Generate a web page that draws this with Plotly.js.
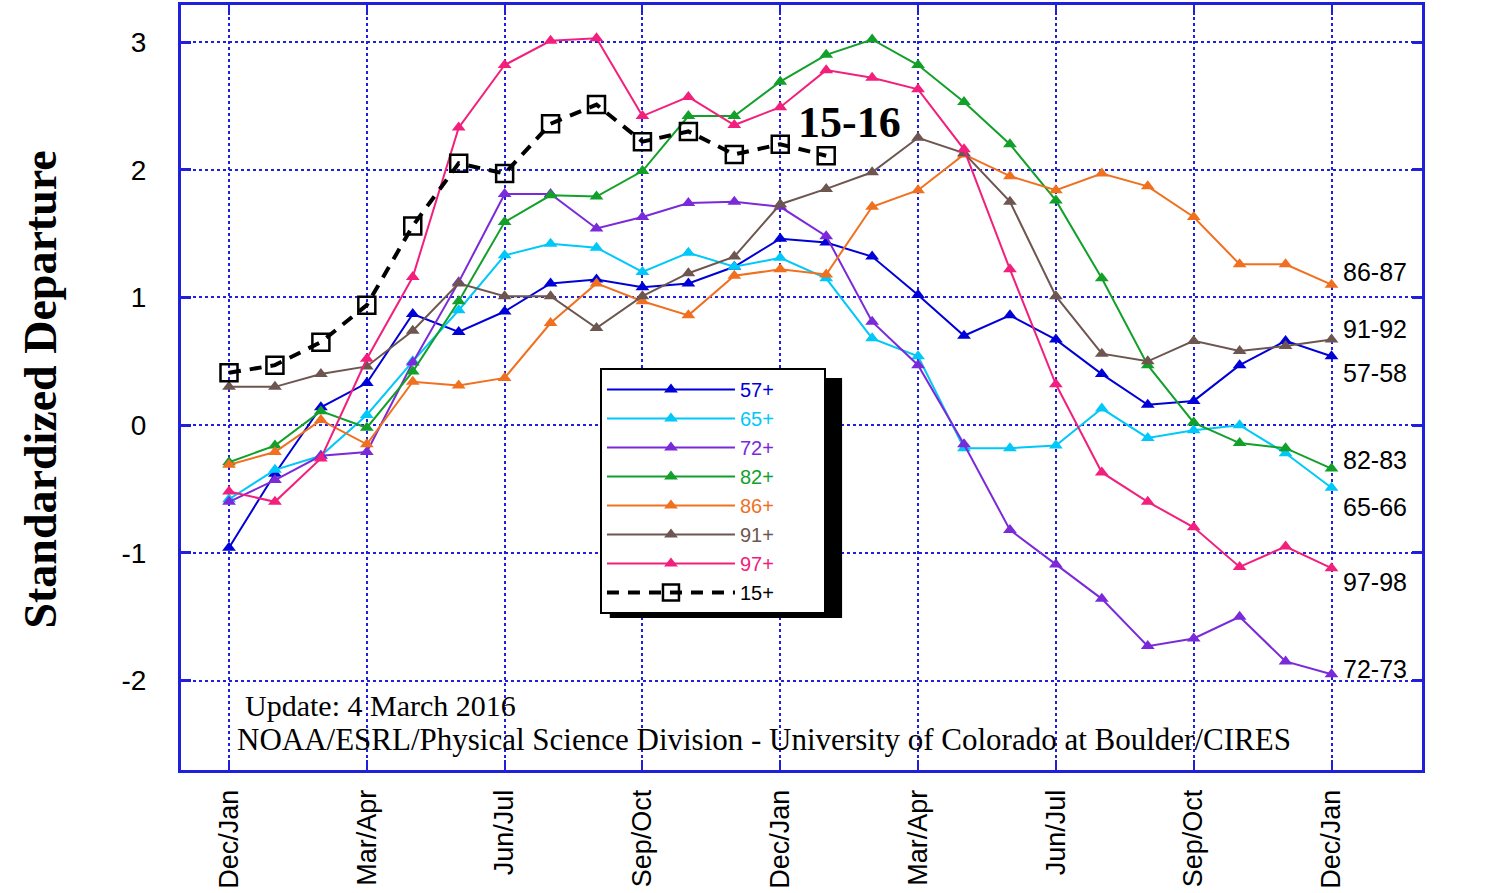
<!DOCTYPE html>
<html>
<head>
<meta charset="utf-8">
<script src="https://cdn.plot.ly/plotly-3.0.1.min.js"></script>
<style>html,body{margin:0;padding:0;background:#fff;}#chart{width:1489px;height:893px;}</style>
</head>
<body>
<div id="chart"></div>
<script>
// bimonthly periods: index 0 = Dec/Jan of year 0 ... index 24 = Dec/Jan of year 2
const periodIndex = [0,1,2,3,4,5,6,7,8,9,10,11,12,13,14,15,16,17,18,19,20,21,22,23,24];
const tickPositions = [0,3,6,9,12,15,18,21,24];
const tickLabels = ["Dec/Jan","Mar/Apr","Jun/Jul","Sep/Oct","Dec/Jan","Mar/Apr","Jun/Jul","Sep/Oct","Dec/Jan"];
const yTicks = [-2,-1,0,1,2,3];
const yTickText = ["-2","-1","0","1","2","3"];

const s57 = [-0.96,-0.38,0.14,0.33,0.87,0.73,0.89,1.11,1.14,1.08,1.11,1.24,1.46,1.43,1.32,1.02,0.70,0.86,0.67,0.40,0.16,0.19,0.47,0.66,0.54];
const s65 = [-0.58,-0.35,-0.24,0.08,0.50,0.90,1.33,1.42,1.39,1.20,1.35,1.24,1.31,1.15,0.68,0.54,-0.18,-0.18,-0.16,0.13,-0.10,-0.04,0.00,-0.22,-0.49];
const s72 = [-0.60,-0.43,-0.24,-0.21,0.49,1.12,1.81,1.81,1.54,1.63,1.74,1.75,1.71,1.48,0.81,0.47,-0.15,-0.82,-1.09,-1.36,-1.73,-1.67,-1.50,-1.85,-1.95];
const s82 = [-0.29,-0.16,0.11,-0.02,0.42,0.97,1.59,1.80,1.79,1.99,2.42,2.42,2.69,2.90,3.02,2.82,2.53,2.20,1.76,1.15,0.47,0.02,-0.14,-0.18,-0.34];
const s86 = [-0.31,-0.21,0.04,-0.15,0.34,0.31,0.37,0.80,1.11,0.97,0.86,1.17,1.22,1.18,1.71,1.84,2.12,1.95,1.84,1.97,1.87,1.63,1.26,1.26,1.10];
const s91 = [0.30,0.30,0.40,0.46,0.74,1.11,1.01,1.01,0.76,1.01,1.19,1.32,1.73,1.85,1.98,2.25,2.13,1.75,1.01,0.56,0.50,0.66,0.58,0.62,0.67];
const s97 = [-0.52,-0.60,-0.26,0.52,1.16,2.33,2.82,3.01,3.03,2.42,2.57,2.35,2.49,2.78,2.72,2.63,2.16,1.22,0.32,-0.37,-0.60,-0.80,-1.11,-0.95,-1.12];
const s15 = [0.41,0.47,0.65,0.94,1.56,2.05,1.97,2.36,2.51,2.22,2.30,2.12,2.20,2.11];

const seriesNames = ["57+","65+","72+","82+","86+","91+","97+"];
const seriesData = [s57,s65,s72,s82,s86,s91,s97];
const seriesColors = ["#0000d8","#00c8f8","#7a2ad8","#12a02a","#f07020","#6e5650","#f2207c"];

const endLabels = ["86-87","91-92","57-58","82-83","65-66","97-98","72-73"];
const endLabelY = [1.20,0.75,0.41,-0.27,-0.64,-1.23,-1.91];

const frame = "#2020dc";
const pad = "&nbsp;".repeat(8);

const traces = seriesData.map((d,k)=>({
  x: periodIndex.slice(0,d.length), y: d, type:"scatter", mode:"lines+markers",
  name: '<span style="color:'+seriesColors[k]+'">'+seriesNames[k]+'</span>'+pad,
  line:{color:seriesColors[k], width:2},
  marker:{symbol:"triangle-up", size:12, color:seriesColors[k]}
}));
traces.push({
  x: periodIndex.slice(0,s15.length), y: s15, type:"scatter", mode:"lines+markers",
  name: '<span style="color:#000">15+</span>'+pad,
  line:{color:"#000", width:4, dash:"12px,9px"},
  marker:{symbol:"square-open", size:17, color:"#000", line:{width:2.5, color:"#000"}}
});

const annotations = [];
endLabels.forEach((t,k)=>annotations.push({
  x:24.2, y:endLabelY[k], xref:"x", yref:"y", text:t, showarrow:false,
  xanchor:"left", yanchor:"middle", font:{family:"Liberation Sans", size:25, color:"#000"}
}));
annotations.push({x:13.5, y:2.37, xref:"x", yref:"y", text:"15-16", showarrow:false,
  xanchor:"center", yanchor:"middle", font:{family:"Liberation Serif", size:44, color:"#000", weight:"bold"}});
annotations.push({x:0.05, y:0.084, xref:"paper", yref:"paper", text:"Update: 4 March 2016", showarrow:false,
  xanchor:"left", yanchor:"middle", font:{family:"Liberation Serif", size:30, color:"#000"}});
annotations.push({x:0.0435, y:0.0405, xref:"paper", yref:"paper",
  text:"NOAA/ESRL/Physical Science Division - University of Colorado at Boulder/CIRES", showarrow:false,
  xanchor:"left", yanchor:"middle", font:{family:"Liberation Serif", size:31, color:"#000"}});
annotations.push({x:-0.113, y:0.497, xref:"paper", yref:"paper", text:"Standardized Departure", textangle:-90,
  showarrow:false, xanchor:"center", yanchor:"middle", font:{family:"Liberation Serif", size:46, color:"#000", weight:"bold"}});

const layout = {
  width:1489, height:893,
  margin:{l:181, r:67, t:5, b:123},
  paper_bgcolor:"#fff", plot_bgcolor:"#fff",
  showlegend:true,
  legend:{x:0.3376, y:0.5255, xanchor:"left", yanchor:"top", bgcolor:"#fff",
    bordercolor:"#000", borderwidth:2, font:{family:"Liberation Sans", size:20, color:"#000"},
    itemwidth:128, tracegroupgap:0},
  xaxis:{range:[-1.045,25.97], tickvals:tickPositions, ticktext:tickLabels, tickangle:-90,
    ticks:"inside", ticklen:10, tickwidth:2, tickcolor:frame, showline:true, linecolor:frame, linewidth:3,
    mirror:"ticks", showgrid:true, gridcolor:frame, griddash:"dot", gridwidth:2, zeroline:false,
    tickfont:{family:"Liberation Sans", size:27, color:"#000"}, ticklabelstandoff:6},
  yaxis:{range:[-2.70,3.29], tickvals:yTicks, ticktext:yTickText, ticks:"inside", ticklen:10, tickwidth:3,
    tickcolor:frame, showline:true, linecolor:frame, linewidth:3, mirror:"ticks", showgrid:true,
    gridcolor:frame, griddash:"dot", gridwidth:2, zeroline:false,
    tickfont:{family:"Liberation Sans", size:28, color:"#000"}, ticklabelstandoff:26},
  yaxis2:{range:[-2.70,3.29], overlaying:"y", side:"right", anchor:"x", tickvals:yTicks, ticktext:yTickText,
    showgrid:false, zeroline:false, showline:false, ticks:"",
    tickfont:{family:"Liberation Sans", size:28, color:"#000"}, ticklabelstandoff:28},
  shapes:[{type:"rect", xref:"paper", yref:"paper", x0:0.3455, x1:0.5327, y0:0.1987, y1:0.5125,
    fillcolor:"#000", line:{width:0}, layer:"above"}],
  annotations:annotations
};

Plotly.newPlot("chart", traces, layout, {displayModeBar:false, staticPlot:true});
</script>
</body>
</html>
